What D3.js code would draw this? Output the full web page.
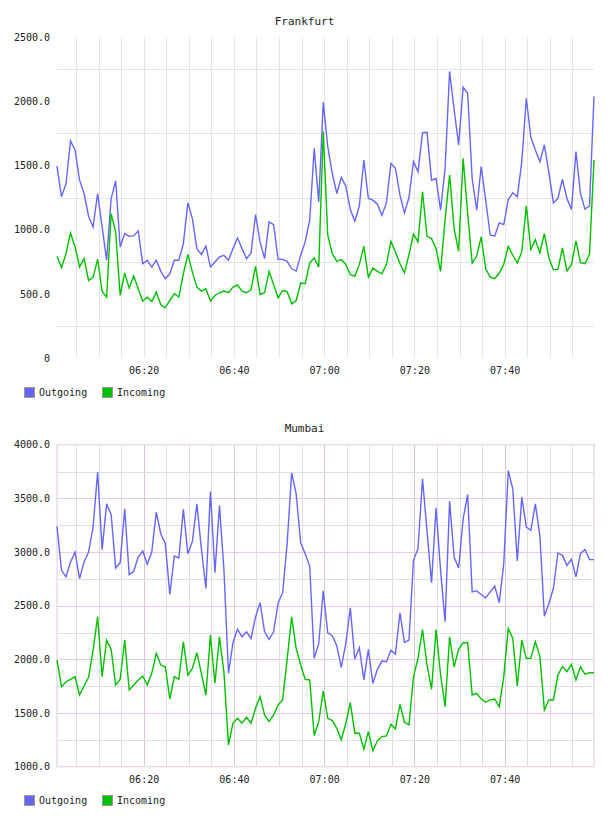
<!DOCTYPE html>
<html><head><meta charset="utf-8">
<script src="https://cdn.jsdelivr.net/npm/d3@7/dist/d3.min.js"></script>
<style>
html,body{margin:0;padding:0;background:#fff;}
text{font-family:"DejaVu Sans Mono",monospace;fill:#222;}
</style></head>
<body><svg id="c" width="608" height="816"></svg>
<script>
// ---- data ----
const startTime = "06:00:48";   // first sample, one sample per minute
const sampleCount = 120;
const seriesNames = ["Outgoing", "Incoming"];
const seriesColors = ["#6666ff", "#00c000"];

const frankfurtOutgoing = [1495,1255,1359,1690,1620,1385,1281,1104,1021,1281,1021,761,1242,1380,865,969,948,951,990,734,
 761,708,761,677,617,656,761,761,891,1208,1086,852,807,872,708,747,787,800,761,852,
 935,852,774,818,1117,904,774,1060,1039,768,768,753,695,677,800,904,1073,1633,1216,1992,
 1646,1438,1281,1406,1339,1156,1065,1185,1542,1242,1229,1198,1112,1208,1516,1477,1268,1130,1250,1529,
 1451,1755,1758,1385,1398,1151,1477,2232,1937,1659,2109,2062,1398,1151,1490,1229,956,951,1052,1039,
 1234,1287,1255,1529,2023,1719,1620,1529,1659,1443,1208,1242,1393,1242,1156,1607,1281,1159,1185,2036];
const frankfurtIncoming = [792,703,813,974,865,708,774,604,630,768,518,474,1125,982,487,661,544,638,539,443,
 474,440,513,414,391,448,500,474,656,807,669,552,521,539,443,487,508,521,508,552,
 570,521,508,531,714,495,508,674,573,469,526,518,422,448,583,578,742,779,708,1763,
 956,813,753,766,729,649,638,729,870,630,701,675,656,729,909,826,734,664,805,964,
 904,1294,948,930,852,675,1078,1424,1008,831,1555,1125,740,792,943,695,630,617,662,729,
 870,800,740,826,1185,844,922,818,969,781,688,688,857,677,727,912,742,734,807,1542];

const mumbaiOutgoing = [3239,2830,2768,2907,3000,2752,2907,3000,3233,3744,3022,3449,3347,2852,2901,3403,2790,2821,2954,3010,
 2886,3000,3372,3171,3078,2604,2963,2945,3397,2985,3099,3449,3031,2660,3564,2808,3434,2830,1870,2155,
 2282,2210,2257,2195,2396,2529,2257,2186,2257,2526,2619,3078,3738,3542,3084,2985,2867,2009,2148,2638,
 2247,2220,2127,1925,2148,2480,2003,2108,1808,2093,1777,1907,1984,1978,2086,2049,2433,2158,2179,2923,
 3031,3682,3192,2715,3412,2830,2350,3474,2954,2852,3310,3536,2629,2638,2604,2573,2629,2684,2529,2892,
 3759,3589,2917,3511,3233,3202,3449,3155,2402,2520,2660,2991,2969,2876,2932,2768,2985,3025,2929,2929];
const mumbaiIncoming = [1993,1746,1792,1814,1839,1668,1752,1832,2086,2396,1839,2179,2093,1761,1814,2179,1715,1761,1808,1845,
 1761,1870,2055,1947,1931,1631,1839,1814,2164,1854,1916,2062,1870,1668,2226,1777,2210,1876,1203,1405,
 1451,1405,1461,1405,1544,1653,1482,1420,1482,1575,1622,2000,2396,2102,1947,1814,1808,1290,1420,1705,
 1451,1430,1358,1250,1405,1597,1312,1312,1163,1327,1148,1241,1281,1287,1396,1352,1581,1414,1389,1839,
 2009,2278,1947,1721,2278,1854,1560,2210,1931,2093,2155,2155,1668,1684,1631,1600,1622,1631,1560,1839,
 2288,2195,1752,2179,2009,2009,2164,2031,1529,1622,1622,1854,1931,1885,1953,1808,1931,1863,1876,1876];

const frankfurtTicks = [0, 500, 1000, 1500, 2000, 2500];
const mumbaiTicks = [1000, 1500, 2000, 2500, 3000, 3500, 4000];
const timeTickLabels = ["06:20", "06:40", "07:00", "07:20", "07:40"];

// ---- drawing ----
const svg = d3.select("#c");
const parse = d3.timeParse("%H:%M:%S");
const t0 = parse(startTime);
const times = d3.range(sampleCount).map(i => d3.timeMinute.offset(t0, i));

function chart(cfg) {
  const g = svg.append("g");
  const x = d3.scaleTime().domain([times[0], times[times.length - 1]]).range([57, 594]);
  const y = d3.scaleLinear().domain(cfg.domain).range([cfg.bottom, cfg.top]);

  // grid
  const minorY = d3.range(cfg.domain[0] + 250, cfg.domain[1], 500);
  const majorY = cfg.ticks.filter(v => v > cfg.domain[0] && v < cfg.domain[1]);
  const vLines = d3.timeMinute.every(5).range(times[0], times[times.length - 1]);
  const isMajorT = d => d.getMinutes() % 20 === 0;

  g.selectAll(".vg").data(vLines).join("line")
    .attr("x1", d => Math.round(x(d)) + 0.5).attr("x2", d => Math.round(x(d)) + 0.5)
    .attr("y1", cfg.top).attr("y2", cfg.bottom)
    .attr("stroke", d => isMajorT(d) ? cfg.majorV : cfg.minor).attr("stroke-width", 1);
  g.selectAll(".hg").data(minorY).join("line")
    .attr("x1", 57).attr("x2", 594)
    .attr("y1", d => Math.round(y(d)) + 0.5).attr("y2", d => Math.round(y(d)) + 0.5)
    .attr("stroke", cfg.minor).attr("stroke-width", 1);
  if (cfg.majorH) {
    g.selectAll(".hm").data(majorY).join("line")
      .attr("x1", 57).attr("x2", 594)
      .attr("y1", d => Math.round(y(d)) + 0.5).attr("y2", d => Math.round(y(d)) + 0.5)
      .attr("stroke", cfg.majorH).attr("stroke-width", 1);
  }
  if (cfg.border) {
    g.append("rect").attr("x", 57).attr("y", cfg.top).attr("width", 594 - 57).attr("height", cfg.bottom - cfg.top)
      .attr("fill", "none").attr("stroke", cfg.border).attr("stroke-width", 1.5);
  }

  // lines
  const line = d3.line().x((d, i) => x(times[i])).y(d => y(d));
  [cfg.out, cfg.inc].forEach((s, j) => {
    g.append("path").datum(s).attr("d", line).attr("fill", "none")
      .attr("stroke", seriesColors[j]).attr("stroke-width", 1.4).attr("stroke-linejoin", "miter");
  });

  // y axis labels
  const ya = d3.axisLeft(y).tickValues(cfg.ticks).tickSize(0).tickPadding(0)
    .tickFormat(v => v === 0 ? "0" : d3.format(".1f")(v));
  const yg = g.append("g").attr("transform", "translate(50,0)").call(ya);
  yg.select(".domain").remove();
  yg.selectAll("text").style("font-family", '"DejaVu Sans Mono",monospace').style("font-size", "10px").attr("fill", "#222");

  // x axis labels
  const xt = times.length ? timeTickLabels.map(s => parse(s + ":00")) : [];
  const xa = d3.axisBottom(x).tickValues(xt).tickSize(0).tickPadding(0).tickFormat(d3.timeFormat("%H:%M"));
  const xg = g.append("g").attr("transform", `translate(0,${cfg.bottom + 9})`).call(xa);
  xg.select(".domain").remove();
  xg.selectAll("text").style("font-family", '"DejaVu Sans Mono",monospace').style("font-size", "10px").attr("fill", "#222");

  // title
  g.append("text").attr("x", 304.5).attr("y", cfg.titleY).attr("text-anchor", "middle")
    .style("font-size", "11px").text(cfg.title);

  // legend
  const lg = g.append("g").attr("transform", `translate(0,${cfg.legendY})`);
  const lx = [24, 102];
  seriesNames.forEach((n, j) => {
    lg.append("rect").attr("x", lx[j] + 0.5).attr("y", -4.5).attr("width", 10).attr("height", 10)
      .attr("fill", seriesColors[j]).attr("stroke", "#999").attr("stroke-width", 1);
    lg.append("text").attr("x", lx[j] + 15).attr("y", 0).attr("dy", "0.35em")
      .style("font-size", "10px").text(n);
  });
}

chart({title: "Frankfurt", titleY: 24.5, top: 37, bottom: 358, domain: [0, 2500], ticks: frankfurtTicks,
  out: frankfurtOutgoing, inc: frankfurtIncoming, minor: "#e6e6e6", majorV: "#e6e6e6", majorH: null, border: null,
  legendY: 392});
chart({title: "Mumbai", titleY: 432, top: 444.7, bottom: 766.7, domain: [1000, 4000], ticks: mumbaiTicks,
  out: mumbaiOutgoing, inc: mumbaiIncoming, minor: "#e2dfe2", majorV: "#dcc6dc", majorH: "#e8cce8", border: "#eadcea",
  legendY: 800});
</script></body></html>
